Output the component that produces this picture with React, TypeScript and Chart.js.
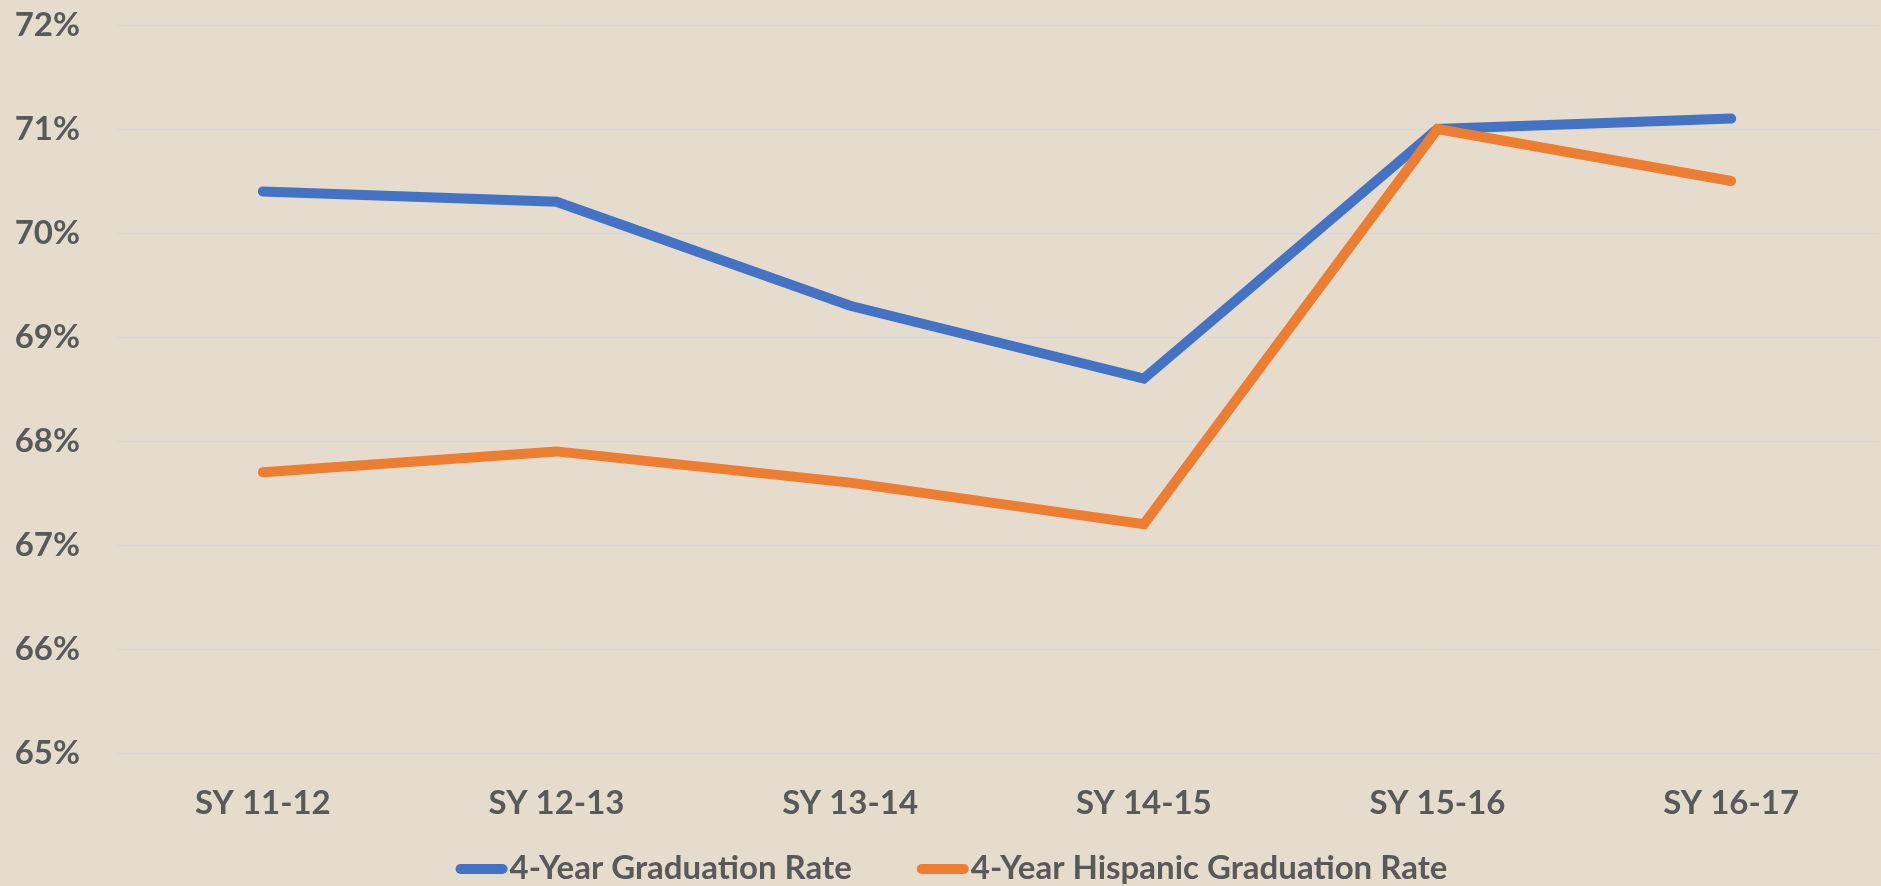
import React, { useEffect, useRef } from "react";
import { Chart, registerables } from "chart.js";

Chart.register(...registerables);

const categories = ["SY 11-12", "SY 12-13", "SY 13-14", "SY 14-15", "SY 15-16", "SY 16-17"];
const totalRate = [70.4, 70.3, 69.3, 68.6, 71.0, 71.1];
const hispanicRate = [67.7, 67.9, 67.6, 67.2, 71.0, 70.5];
const seriesLabels = ["4-Year Graduation Rate", "4-Year Hispanic Graduation Rate"];
const seriesColors = ["#4472C4", "#ED7D31"];
const yMin = 65;
const yMax = 72;
const yStep = 1;

const FONT = "Lato, 'Noto Sans', sans-serif";
const TEXT_COLOR = "#595959";
const BG = "#E5DCCD";

const backgroundPlugin = {
  id: "bgFill",
  beforeDraw(chart: any) {
    const { ctx, width, height } = chart;
    ctx.save();
    ctx.fillStyle = BG;
    ctx.fillRect(0, 0, width, height);
    ctx.restore();
  },
};

const legendPlugin = {
  id: "lineLegend",
  afterDraw(chart: any) {
    const { ctx } = chart;
    const fontSize = 33;
    const markerW = 52;
    const markerGap = 2;
    const itemGap = 65;
    const y = 868;
    ctx.save();
    ctx.font = `bold ${fontSize}px ${FONT}`;
    const items = chart.data.datasets.map((ds: any) => ({
      text: ds.label,
      color: ds.borderColor,
      w: ctx.measureText(ds.label).width,
    }));
    const total =
      items.reduce((s: number, it: any) => s + markerW + markerGap + it.w, 0) +
      itemGap * (items.length - 1);
    let x = chart.width / 2 + 11 - total / 2;
    for (const it of items) {
      ctx.strokeStyle = it.color;
      ctx.lineWidth = 10;
      ctx.lineCap = "round";
      ctx.beginPath();
      ctx.moveTo(x + 5, y + 1);
      ctx.lineTo(x + markerW - 5, y + 1);
      ctx.stroke();
      ctx.fillStyle = TEXT_COLOR;
      ctx.textBaseline = "middle";
      ctx.textAlign = "left";
      ctx.fillText(it.text, x + markerW + markerGap, y);
      x += markerW + markerGap + it.w + itemGap;
    }
    ctx.restore();
  },
};

export default function App() {
  const canvasRef = useRef<HTMLCanvasElement | null>(null);

  useEffect(() => {
    if (!canvasRef.current) return;
    const tickFont = { family: FONT, size: 33, weight: "bold" as const };
    const chart = new Chart(canvasRef.current, {
      type: "line",
      data: {
        labels: categories,
        datasets: [
          {
            label: seriesLabels[0],
            data: totalRate,
            borderColor: seriesColors[0],
            backgroundColor: seriesColors[0],
            borderWidth: 10,
            borderCapStyle: "round",
            borderJoinStyle: "miter",
            pointRadius: 0,
            tension: 0,
            order: 1,
          },
          {
            label: seriesLabels[1],
            data: hispanicRate,
            borderColor: seriesColors[1],
            backgroundColor: seriesColors[1],
            borderWidth: 10,
            borderCapStyle: "round",
            borderJoinStyle: "miter",
            pointRadius: 0,
            tension: 0,
            order: 0,
          },
        ],
      },
      options: {
        animation: false,
        responsive: false,
        layout: { padding: { top: 25, right: 3, left: 0, bottom: 0 } },
        plugins: {
          legend: { display: false },
          tooltip: { enabled: false },
        },
        scales: {
          x: {
            type: "category",
            offset: true,
            grid: { display: false },
            border: { display: false },
            ticks: {
              font: tickFont,
              color: TEXT_COLOR,
              padding: 23,
              maxRotation: 0,
              autoSkip: false,
            },
            afterFit: (s: any) => {
              s.height = 133;
            },
          },
          y: {
            min: yMin,
            max: yMax,
            grid: { color: "#D8D6D6", lineWidth: 1, drawTicks: false },
            border: { display: false },
            ticks: {
              stepSize: yStep,
              font: tickFont,
              color: TEXT_COLOR,
              padding: 36,
              callback: (v: any) => `${v}%`,
            },
            afterFit: (s: any) => {
              s.width = 116;
              s.paddingTop = 0;
              s.paddingBottom = 0;
            },
          },
        },
      },
      plugins: [backgroundPlugin, legendPlugin],
    });
    return () => chart.destroy();
  }, []);

  return (
    <div style={{ position: "fixed", left: 0, top: 0, width: 1881, height: 886, background: BG }}>
      <canvas ref={canvasRef} width={1881} height={886} style={{ display: "block" }} />
    </div>
  );
}
